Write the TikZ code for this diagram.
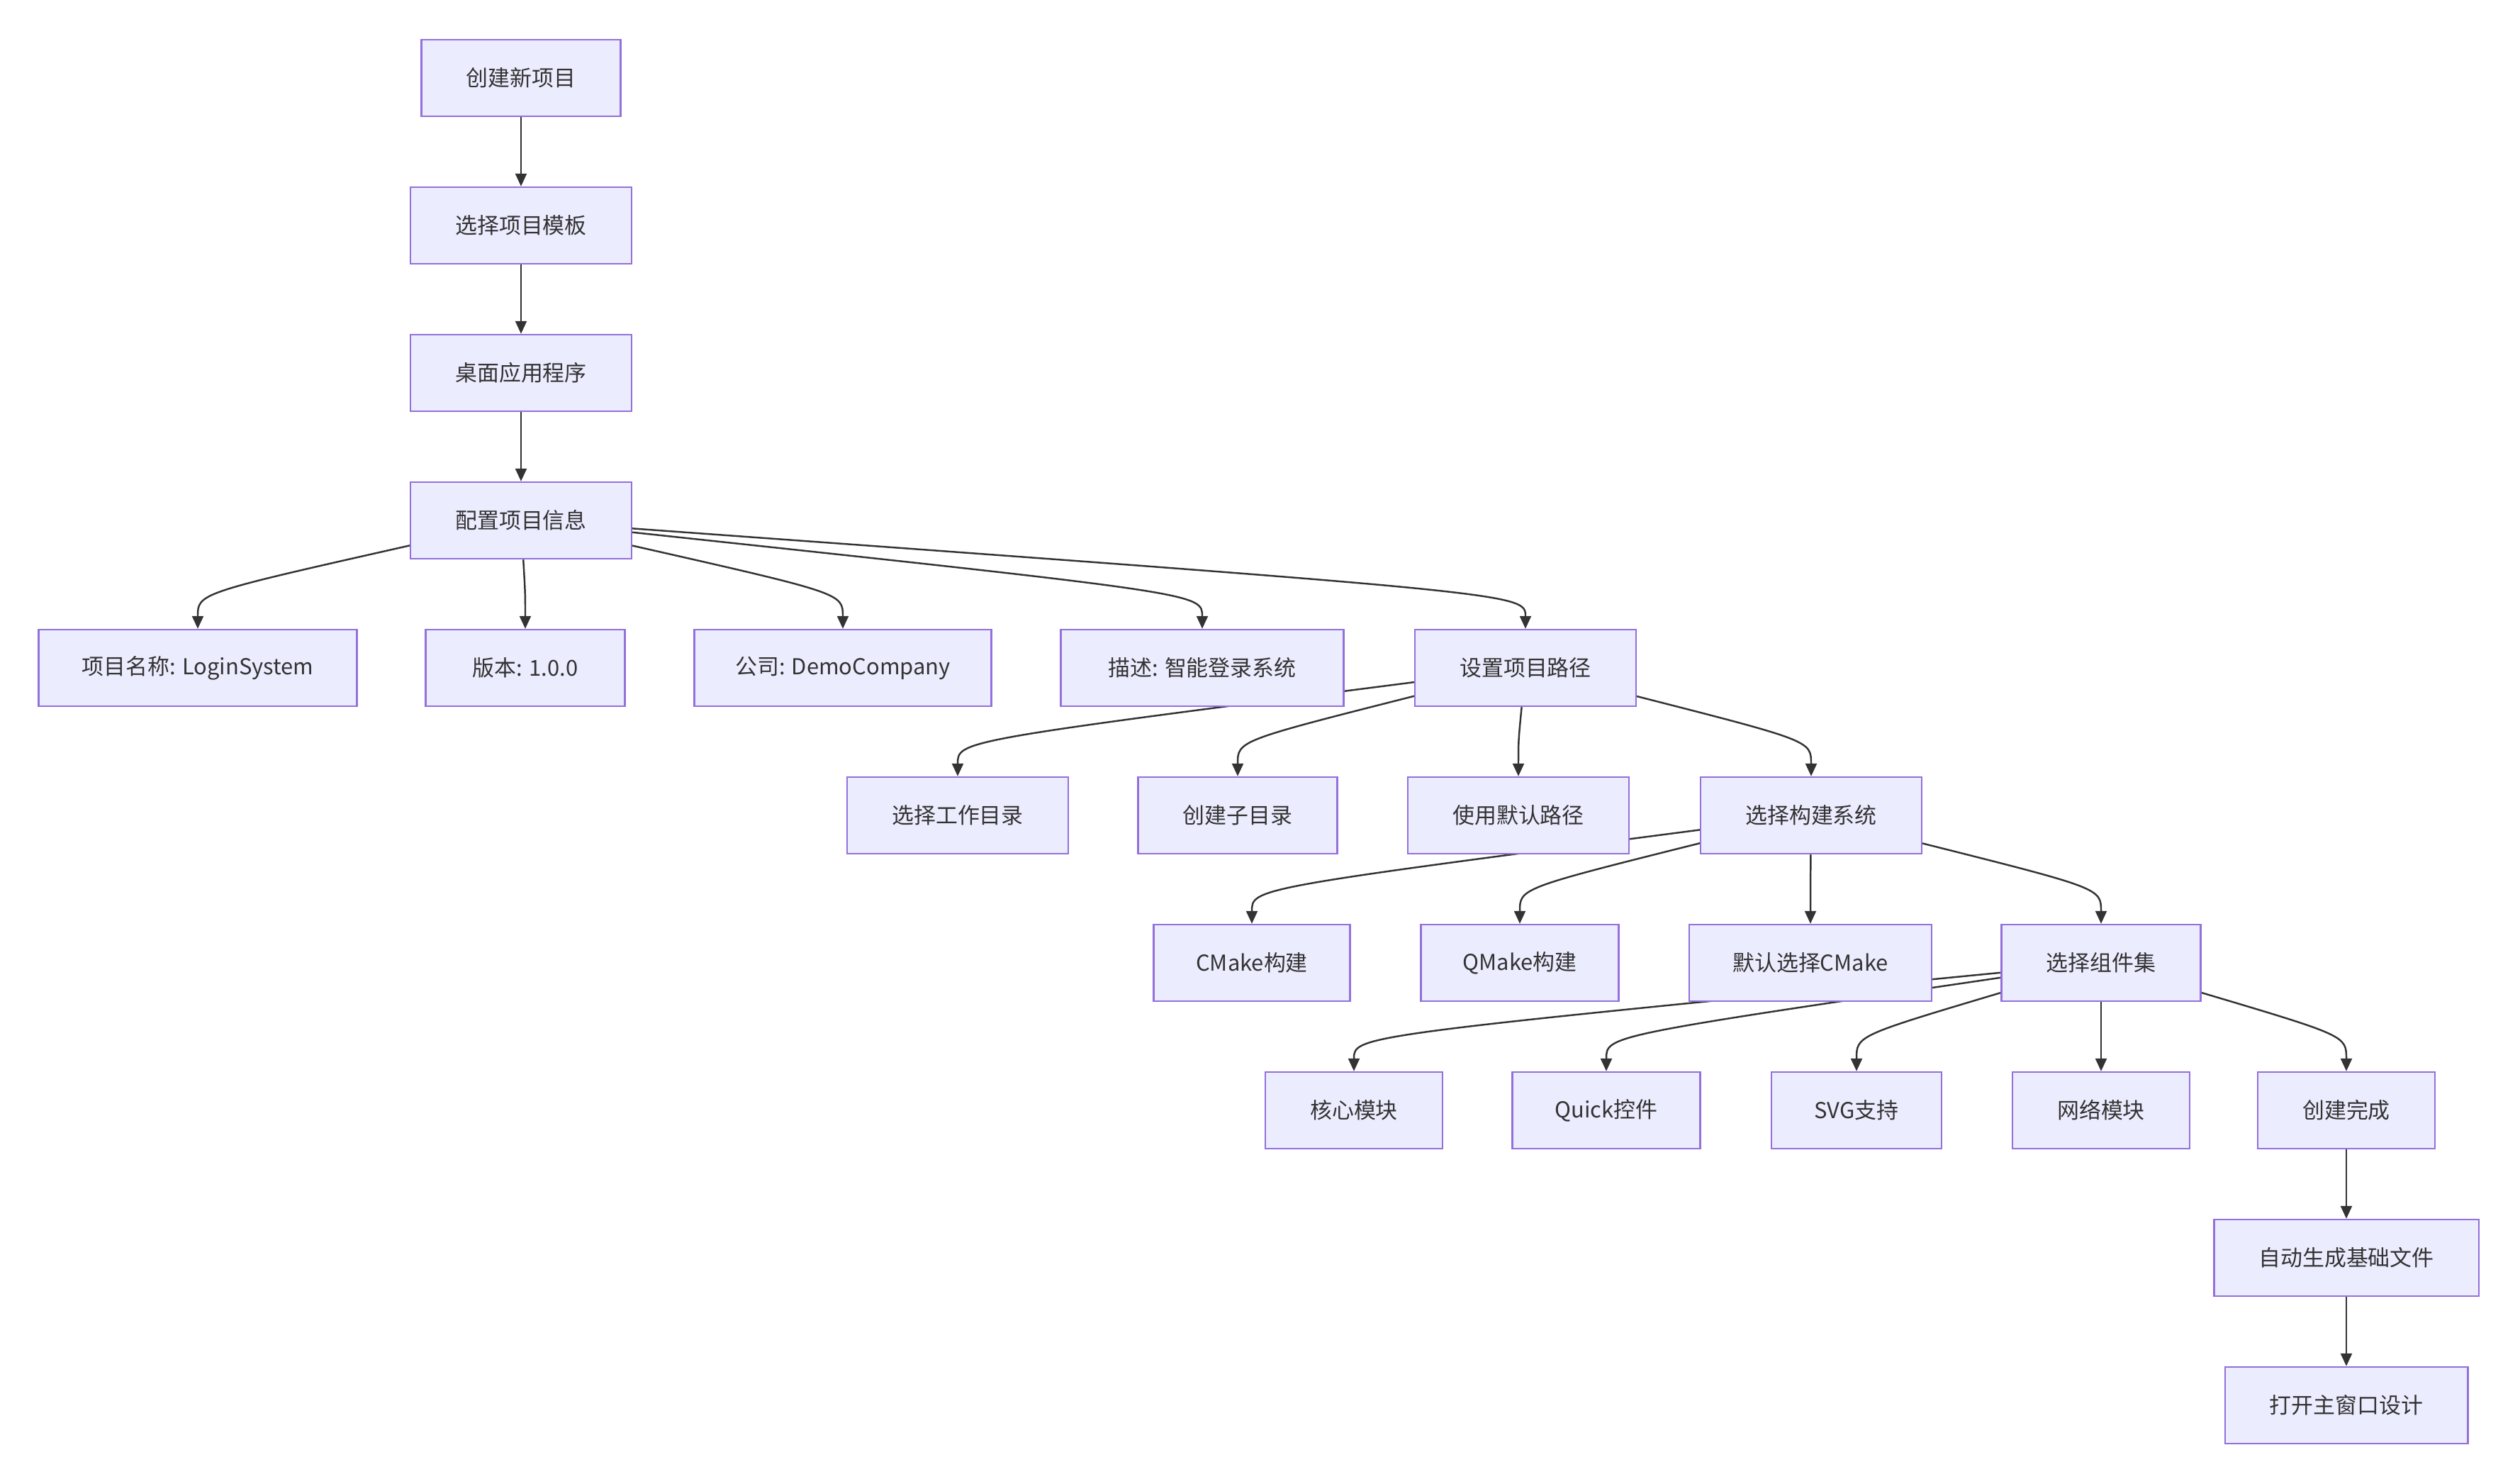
\documentclass[tikz,border=0pt]{standalone}
\usepackage{fontspec}
\setmainfont{Noto Sans CJK SC}
\usetikzlibrary{arrows.meta,calc,backgrounds}
\definecolor{boxfill}{HTML}{ECECFF}
\definecolor{boxline}{HTML}{9370DB}
\definecolor{ink}{HTML}{333333}
\begin{document}
\begin{tikzpicture}[
    stepbox/.style={draw=boxline,fill=boxfill,line width=0.7pt,text=ink,
        minimum height=1.08cm,inner xsep=0.63cm,inner ysep=0pt,
        font=\fontsize{8.8pt}{10pt}\selectfont},
    boxwd/.style={inner xsep=0pt,minimum width=#1},
    edge/.style={draw=ink,line width=0.7pt,-{Triangle[length=1.8mm,width=1.6mm]}}
]
    \useasboundingbox (0,0) rectangle (35.55,-20.92);
    % main column
    \node[stepbox] (new) at (7.35,-1.10) {创建新项目};
    \node[stepbox] (tmpl) at (7.35,-3.18) {选择项目模板};
    \node[stepbox] (desk) at (7.35,-5.26) {桌面应用程序};
    \node[stepbox] (cfg) at (7.35,-7.34) {配置项目信息};
    % project info
    \node[stepbox,boxwd=4.49cm] (name) at (2.79,-9.42) {项目名称: LoginSystem};
    \node[stepbox,boxwd=2.81cm] (ver) at (7.41,-9.42) {版本: 1.0.0};
    \node[stepbox,boxwd=4.19cm] (comp) at (11.89,-9.42) {公司: DemoCompany};
    \node[stepbox,boxwd=3.99cm] (desc) at (16.96,-9.42) {描述: 智能登录系统};
    \node[stepbox] (loc) at (21.52,-9.42) {设置项目路径};
    % path
    \node[stepbox] (work) at (13.51,-11.50) {选择工作目录};
    \node[stepbox] (sub) at (17.46,-11.50) {创建子目录};
    \node[stepbox] (defp) at (21.42,-11.50) {使用默认路径};
    \node[stepbox] (build) at (25.55,-11.50) {选择构建系统};
    % build system
    \node[stepbox,boxwd=2.77cm] (cmake) at (17.66,-13.58) {CMake构建};
    \node[stepbox,boxwd=2.79cm] (qmake) at (21.44,-13.58) {QMake构建};
    \node[stepbox,boxwd=3.42cm] (defc) at (25.54,-13.58) {默认选择CMake};
    \node[stepbox] (kits) at (29.64,-13.58) {选择组件集};
    % components
    \node[stepbox] (core) at (19.10,-15.66) {核心模块};
    \node[stepbox,boxwd=2.65cm] (quick) at (22.66,-15.66) {Quick控件};
    \node[stepbox,boxwd=2.40cm] (svg) at (26.19,-15.66) {SVG支持};
    \node[stepbox] (net) at (29.64,-15.66) {网络模块};
    \node[stepbox] (done) at (33.10,-15.66) {创建完成};
    \node[stepbox] (gen) at (33.10,-17.74) {自动生成基础文件};
    \node[stepbox] (win) at (33.10,-19.82) {打开主窗口设计};
    % edges, under the boxes
    \begin{scope}[on background layer]
        \foreach \a/\b in {new/tmpl,tmpl/desk,desk/cfg,
                cfg/name,cfg/ver,cfg/comp,cfg/desc,cfg/loc,
                loc/work,loc/sub,loc/defp,loc/build,
                build/cmake,build/qmake,build/defc,build/kits,
                kits/core,kits/quick,kits/svg,kits/net,kits/done,
                done/gen,gen/win}
            \draw[edge] (\a) .. controls ($(\b.north)+(0,.5)$) and ($(\b.north)+(0,.5)$) .. (\b);
    \end{scope}
\end{tikzpicture}
\end{document}
